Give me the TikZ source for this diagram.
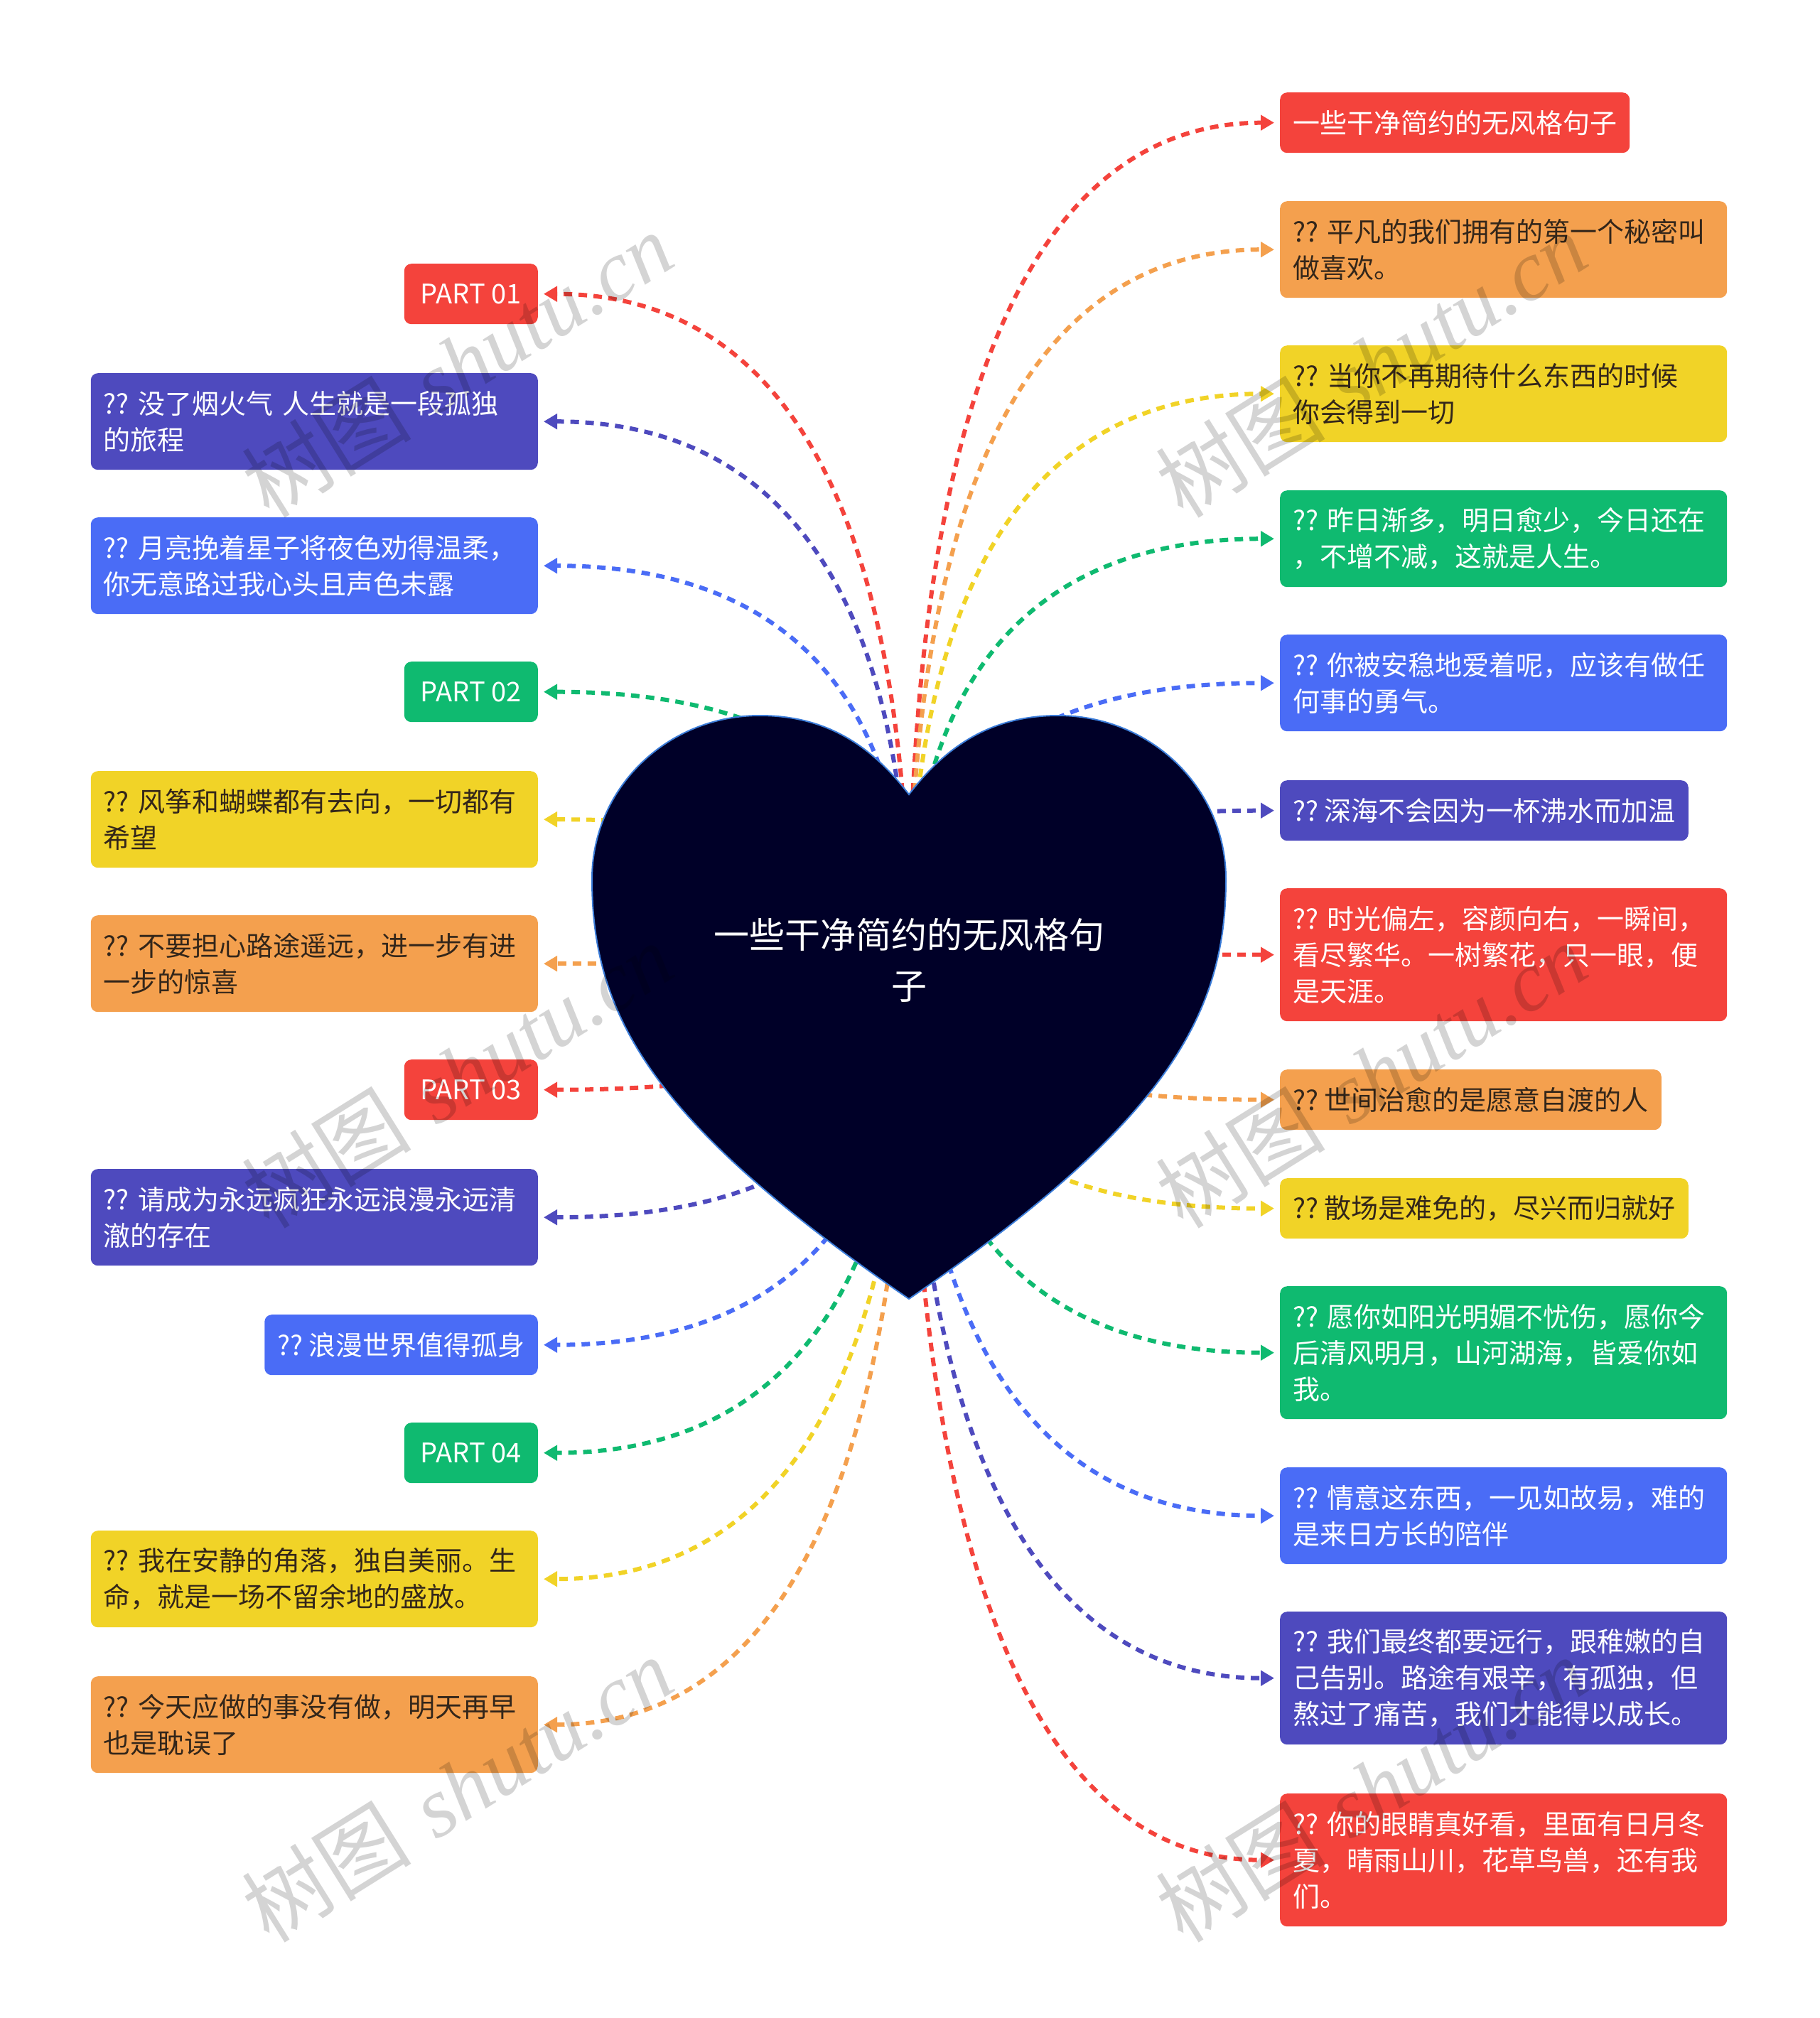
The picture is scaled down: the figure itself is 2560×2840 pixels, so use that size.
\documentclass[tikz,border=0pt]{standalone}
\usepackage{fontspec}
\newfontfamily\cjk{Noto Sans CJK SC}
\newfontfamily\wmserif{Liberation Serif}
\usetikzlibrary{arrows.meta,calc}
\definecolor{cRed}{HTML}{F4433C}
\definecolor{cOrange}{HTML}{F4A04E}
\definecolor{cYellow}{HTML}{F1D327}
\definecolor{cGreen}{HTML}{0FBA70}
\definecolor{cBlue}{HTML}{4A6CF6}
\definecolor{cIndigo}{HTML}{4E4ABE}
\definecolor{cDark}{HTML}{33261A}
\definecolor{cHeart}{HTML}{000028}
\definecolor{cHeartEdge}{HTML}{3C7DD9}
\tikzset{
  box/.style={rounded corners=10pt, inner xsep=18pt, inner ysep=0pt,
    font=\cjk\fontsize{38}{51}\selectfont},
  wide/.style={text width=593pt, align=left},
  partbox/.style={minimum width=188pt},
  hA/.style={minimum height=85pt},
  hB/.style={minimum height=136pt},
  hC/.style={minimum height=187pt},
  rbox/.style={box, anchor=north west},
  lbox/.style={box, anchor=north east},
  fRed/.style={fill=cRed, text=white},
  fOrange/.style={fill=cOrange, text=cDark},
  fYellow/.style={fill=cYellow, text=cDark},
  fGreen/.style={fill=cGreen, text=white},
  fBlue/.style={fill=cBlue, text=white},
  fIndigo/.style={fill=cIndigo, text=white},
  conn/.style={line width=6pt, dash pattern=on 12pt off 9pt,
    -{Triangle[length=19pt,width=21pt]}, shorten >=8pt},
  wm/.style={text=black, opacity=0.17, rotate=32,
    font=\fontsize{120}{130}\selectfont},
}
\newcommand\hlink[2]{%
  \path (hub |- #2) coordinate (tq);
  \draw[conn, draw=#1] (hub) .. controls ($(hub)!0.6667!(tq)$) and ($(#2)!0.6667!(tq)$) .. (#2);
}
\begin{document}
\begin{tikzpicture}[x=1pt,y=-1pt]
\useasboundingbox (0,0) rectangle (2560,2840);
\coordinate (hub) at (1279,1345);

% right boxes
\node[rbox,hA,fRed]    (R1)  at (1801,130)  {一些干净简约的无风格句子};
\node[rbox,hB,wide,fOrange] (R2) at (1801,283) {??~平凡的我们拥有的第一个秘密叫\\做喜欢。};
\node[rbox,hB,wide,fYellow] (R3) at (1801,486) {??~当你不再期待什么东西的时候\\你会得到一切};
\node[rbox,hB,wide,fGreen]  (R4) at (1801,690) {??~昨日渐多，明日愈少，今日还在\\，不增不减，这就是人生。};
\node[rbox,hB,wide,fBlue]   (R5) at (1801,893) {??~你被安稳地爱着呢，应该有做任\\何事的勇气。};
\node[rbox,hA,fIndigo] (R6)  at (1801,1098) {??~深海不会因为一杯沸水而加温};
\node[rbox,hC,wide,fRed]    (R7) at (1801,1250) {??~时光偏左，容颜向右，一瞬间，\\看尽繁华。一树繁花，只一眼，便\\是天涯。};
\node[rbox,hA,fOrange] (R8)  at (1801,1505) {??~世间治愈的是愿意自渡的人};
\node[rbox,hA,fYellow] (R9)  at (1801,1658) {??~散场是难免的，尽兴而归就好};
\node[rbox,hC,wide,fGreen]  (R10) at (1801,1810) {??~愿你如阳光明媚不忧伤，愿你今\\后清风明月，山河湖海，皆爱你如\\我。};
\node[rbox,hB,wide,fBlue]   (R11) at (1801,2065) {??~情意这东西，一见如故易，难的\\是来日方长的陪伴};
\node[rbox,hC,wide,fIndigo] (R12) at (1801,2268) {??~我们最终都要远行，跟稚嫩的自\\己告别。路途有艰辛，有孤独，但\\熬过了痛苦，我们才能得以成长。};
\node[rbox,hC,wide,fRed]    (R13) at (1801,2524) {??~你的眼睛真好看，里面有日月冬\\夏，晴雨山川，花草鸟兽，还有我\\们。};

% left boxes
\node[lbox,hA,partbox,fRed]    (L1)  at (757,371)  {PART 01};
\node[lbox,hB,wide,fIndigo] (L2) at (757,525) {??~没了烟火气~人生就是一段孤独\\的旅程};
\node[lbox,hB,wide,fBlue]   (L3) at (757,728) {??~月亮挽着星子将夜色劝得温柔，\\你无意路过我心头且声色未露};
\node[lbox,hA,partbox,fGreen]  (L4)  at (757,931)  {PART 02};
\node[lbox,hB,wide,fYellow] (L5) at (757,1085) {??~风筝和蝴蝶都有去向，一切都有\\希望};
\node[lbox,hB,wide,fOrange] (L6) at (757,1288) {??~不要担心路途遥远，进一步有进\\一步的惊喜};
\node[lbox,hA,partbox,fRed]    (L7)  at (757,1491) {PART 03};
\node[lbox,hB,wide,fIndigo] (L8) at (757,1645) {??~请成为永远疯狂永远浪漫永远清\\澈的存在};
\node[lbox,hA,fBlue]   (L9)  at (757,1850) {??~浪漫世界值得孤身};
\node[lbox,hA,partbox,fGreen]  (L10) at (757,2002) {PART 04};
\node[lbox,hB,wide,fYellow] (L11) at (757,2154) {??~我在安静的角落，独自美丽。生\\命，就是一场不留余地的盛放。};
\node[lbox,hB,wide,fOrange] (L12) at (757,2359) {??~今天应做的事没有做，明天再早\\也是耽误了};

% connectors
\hlink{cRed}{R1.west}
\hlink{cOrange}{R2.west}
\hlink{cYellow}{R3.west}
\hlink{cGreen}{R4.west}
\hlink{cBlue}{R5.west}
\hlink{cIndigo}{R6.west}
\hlink{cRed}{R7.west}
\hlink{cOrange}{R8.west}
\hlink{cYellow}{R9.west}
\hlink{cGreen}{R10.west}
\hlink{cBlue}{R11.west}
\hlink{cIndigo}{R12.west}
\hlink{cRed}{R13.west}
\hlink{cRed}{L1.east}
\hlink{cIndigo}{L2.east}
\hlink{cBlue}{L3.east}
\hlink{cGreen}{L4.east}
\hlink{cYellow}{L5.east}
\hlink{cOrange}{L6.east}
\hlink{cRed}{L7.east}
\hlink{cIndigo}{L8.east}
\hlink{cBlue}{L9.east}
\hlink{cGreen}{L10.east}
\hlink{cYellow}{L11.east}
\hlink{cOrange}{L12.east}

% heart
\filldraw[fill=cHeart, draw=cHeartEdge, line width=2pt]
  (1279,1118) .. controls (1335,1045) and (1400,1007) .. (1489,1007)
  .. controls (1620,1007) and (1725,1110) .. (1725,1237)
  .. controls (1725,1430) and (1640,1580) .. (1279,1828)
  .. controls (918,1580) and (833,1430) .. (833,1237)
  .. controls (833,1110) and (938,1007) .. (1069,1007)
  .. controls (1158,1007) and (1223,1045) .. (1279,1118) -- cycle;
\node[font=\cjk\fontsize{50}{72}\selectfont, text=white, align=center] (root) at (1279,1351) {一些干净简约的无风格句\\子};

% watermarks
\node[wm] (wm1) at (643,513)  {{\cjk 树图} {\wmserif\itshape shutu.cn}};
\node[wm] (wm2) at (1929,513) {{\cjk 树图} {\wmserif\itshape shutu.cn}};
\node[wm] (wm3) at (643,1513) {{\cjk 树图} {\wmserif\itshape shutu.cn}};
\node[wm] (wm4) at (1929,1513) {{\cjk 树图} {\wmserif\itshape shutu.cn}};
\node[wm] (wm5) at (643,2518) {{\cjk 树图} {\wmserif\itshape shutu.cn}};
\node[wm] (wm6) at (1929,2518) {{\cjk 树图} {\wmserif\itshape shutu.cn}};
\end{tikzpicture}
\end{document}
